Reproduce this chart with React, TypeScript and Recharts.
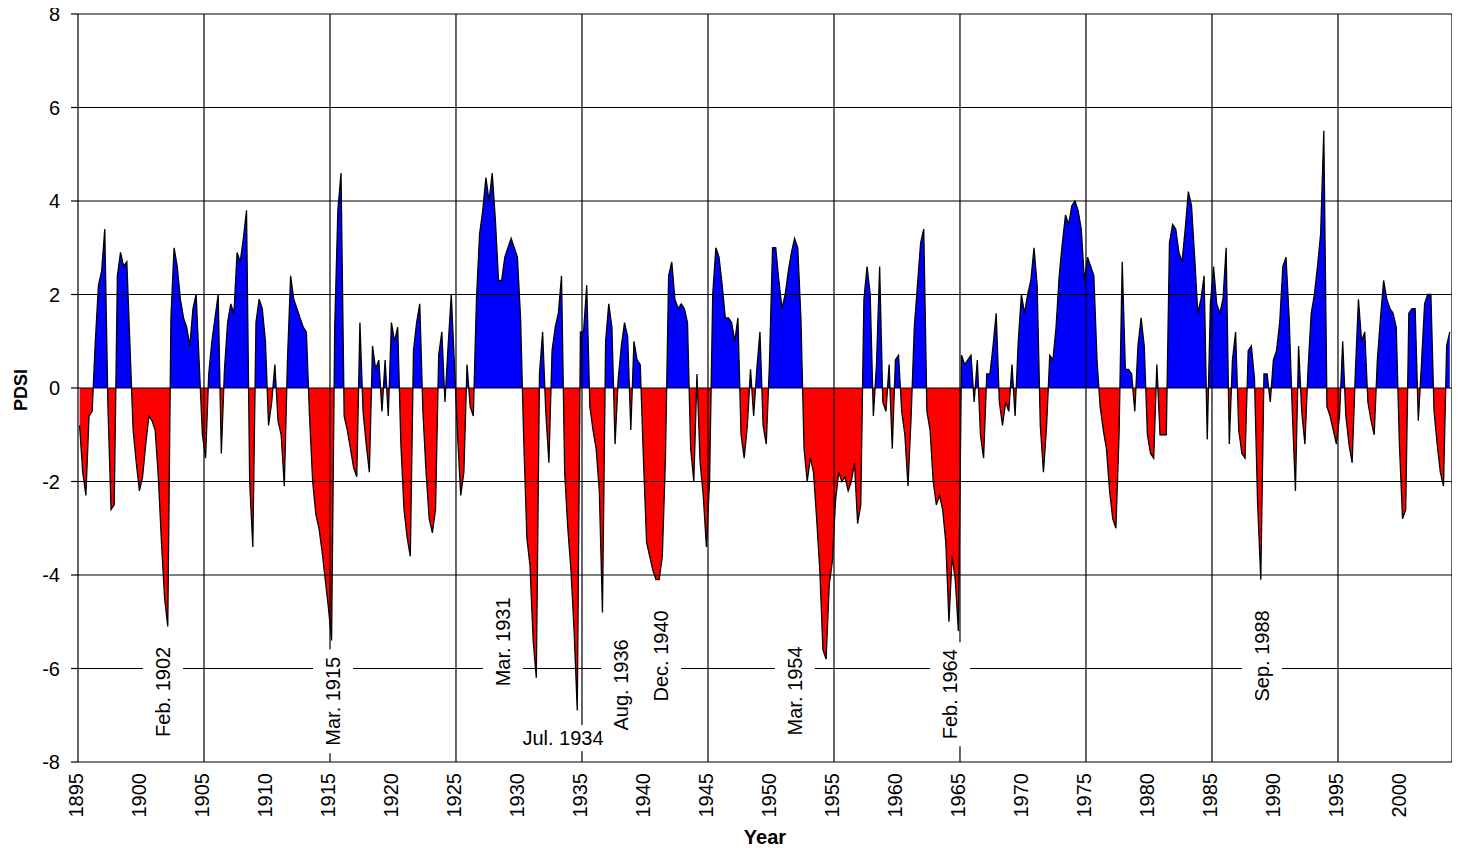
import React from 'react'
import { ComposedChart, Area, XAxis, YAxis, ReferenceLine, ReferenceDot } from 'recharts'

// Palmer Drought Severity Index, quarterly readings (Jan-Mar, Apr-Jun, Jul-Sep, Oct-Dec)
const START_YEAR = 1895
const PER_YEAR = 4
const PDSI_QUARTERLY = [
  -0.8, -1.8, -2.3, -0.6, // 1895
  -0.5, 1.0, 2.2, 2.5, // 1896
  3.4, -0.4, -2.6, -2.5, // 1897
  2.4, 2.9, 2.6, 2.7, // 1898
  0.9, -0.9, -1.6, -2.2, // 1899
  -1.9, -1.2, -0.6, -0.7, // 1900
  -0.9, -1.9, -3.3, -4.5, // 1901
  -5.1, 1.5, 3.0, 2.6, // 1902
  1.9, 1.5, 1.3, 0.9, // 1903
  1.7, 2.0, 0.5, -1.0, // 1904
  -1.5, 0.3, 1.0, 1.5, // 1905
  2.0, -1.4, 0.4, 1.4, // 1906
  1.8, 1.6, 2.9, 2.7, // 1907
  3.2, 3.8, -2.0, -3.4, // 1908
  1.4, 1.9, 1.7, 1.0, // 1909
  -0.8, -0.3, 0.5, -0.7, // 1910
  -1.0, -2.1, 0.6, 2.4, // 1911
  1.9, 1.7, 1.5, 1.3, // 1912
  1.2, -0.6, -2.0, -2.7, // 1913
  -3.0, -3.5, -4.1, -4.7, // 1914
  -5.4, 1.3, 3.8, 4.6, // 1915
  -0.6, -0.9, -1.3, -1.7, // 1916
  -1.9, 1.4, -0.5, -1.2, // 1917
  -1.8, 0.9, 0.4, 0.6, // 1918
  -0.5, 0.6, -0.6, 1.4, // 1919
  1.0, 1.3, -1.2, -2.6, // 1920
  -3.2, -3.6, 0.8, 1.4, // 1921
  1.8, -0.5, -1.8, -2.8, // 1922
  -3.1, -2.6, 0.7, 1.2, // 1923
  -0.3, 0.9, 2.0, 0.5, // 1924
  -1.0, -2.3, -1.8, 0.5, // 1925
  -0.4, -0.6, 1.9, 3.3, // 1926
  3.8, 4.5, 4.0, 4.6, // 1927
  3.6, 2.3, 2.3, 2.8, // 1928
  3.0, 3.2, 3.0, 2.8, // 1929
  1.5, -1.1, -3.2, -3.8, // 1930
  -5.4, -6.2, 0.3, 1.2, // 1931
  -0.5, -1.6, 0.8, 1.3, // 1932
  1.6, 2.4, -1.8, -3.0, // 1933
  -3.9, -5.2, -6.9, 1.2, // 1934
  1.2, 2.2, -0.4, -0.9, // 1935
  -1.3, -2.2, -4.8, 1.0, // 1936
  1.8, 1.3, -1.2, 0.2, // 1937
  0.9, 1.4, 1.1, -0.9, // 1938
  1.0, 0.6, 0.5, -1.5, // 1939
  -3.3, -3.6, -3.9, -4.1, // 1940
  -4.1, -3.6, -1.5, 2.4, // 1941
  2.7, 1.9, 1.7, 1.8, // 1942
  1.7, 1.4, -1.3, -2.0, // 1943
  0.3, -1.6, -2.3, -3.4, // 1944
  -2.0, 2.0, 3.0, 2.8, // 1945
  2.2, 1.5, 1.5, 1.4, // 1946
  1.0, 1.5, -1.0, -1.5, // 1947
  -0.8, 0.4, -0.6, 0.4, // 1948
  1.2, -0.8, -1.2, 0.5, // 1949
  3.0, 3.0, 2.3, 1.7, // 1950
  2.0, 2.5, 2.9, 3.2, // 1951
  3.0, 1.5, -1.3, -2.0, // 1952
  -1.5, -1.8, -2.8, -3.9, // 1953
  -5.6, -5.8, -4.2, -3.7, // 1954
  -2.4, -1.8, -2.0, -1.9, // 1955
  -2.2, -2.0, -1.6, -2.9, // 1956
  -2.5, 1.9, 2.6, 2.0, // 1957
  -0.6, 0.5, 2.6, -0.3, // 1958
  -0.5, 0.5, -1.3, 0.6, // 1959
  0.7, -0.5, -1.0, -2.1, // 1960
  -0.6, 1.3, 2.2, 3.1, // 1961
  3.4, -0.5, -0.9, -2.0, // 1962
  -2.5, -2.3, -2.6, -3.3, // 1963
  -5.0, -3.6, -4.1, -5.2, // 1964
  0.7, 0.5, 0.6, 0.7, // 1965
  -0.3, 0.6, -1.0, -1.5, // 1966
  0.3, 0.3, 0.9, 1.6, // 1967
  -0.3, -0.8, -0.3, -0.5, // 1968
  0.5, -0.6, 1.0, 2.0, // 1969
  1.6, 2.0, 2.3, 3.0, // 1970
  2.2, -0.8, -1.8, -0.8, // 1971
  0.7, 0.6, 1.3, 2.4, // 1972
  3.1, 3.7, 3.5, 3.9, // 1973
  4.0, 3.8, 3.4, 2.3, // 1974
  2.8, 2.6, 2.4, 0.6, // 1975
  -0.4, -0.9, -1.3, -2.2, // 1976
  -2.8, -3.0, -1.0, 2.7, // 1977
  0.4, 0.4, 0.3, -0.5, // 1978
  0.9, 1.5, 0.9, -1.0, // 1979
  -1.4, -1.5, 0.5, -1.0, // 1980
  -1.0, -1.0, 3.1, 3.5, // 1981
  3.4, 2.9, 2.7, 3.4, // 1982
  4.2, 3.9, 2.8, 1.6, // 1983
  1.9, 2.4, -1.1, 1.8, // 1984
  2.6, 1.8, 1.6, 1.9, // 1985
  3.0, -1.2, 0.6, 1.2, // 1986
  -0.9, -1.4, -1.5, 0.8, // 1987
  0.9, 0.2, -2.5, -4.1, // 1988
  0.3, 0.3, -0.3, 0.6, // 1989
  0.8, 1.4, 2.6, 2.8, // 1990
  1.5, -0.5, -2.2, 0.9, // 1991
  -0.5, -1.2, 0.4, 1.6, // 1992
  2.0, 2.6, 3.3, 5.5, // 1993
  -0.4, -0.6, -0.9, -1.2, // 1994
  -0.6, 1.0, -0.6, -1.2, // 1995
  -1.6, 0.3, 1.9, 1.0, // 1996
  1.2, -0.3, -0.7, -1.0, // 1997
  0.6, 1.5, 2.3, 1.9, // 1998
  1.7, 1.6, 1.3, -1.2, // 1999
  -2.8, -2.6, 1.6, 1.7, // 2000
  1.7, -0.7, 0.5, 1.8, // 2001
  2.0, 2.0, -0.5, -1.2, // 2002
  -1.8, -2.1, 0.9, 1.2, // 2003
]

const TICK_YEARS = [
  1895, 1900, 1905, 1910, 1915, 1920, 1925, 1930, 1935, 1940, 1945, 1950,
  1955, 1960, 1965, 1970, 1975, 1980, 1985, 1990, 1995, 2000,
]
const GRID_YEARS = [1905, 1915, 1925, 1935, 1945, 1955, 1965, 1975, 1985, 1995]
const PDSI_TICKS = [-8, -6, -4, -2, 0, 2, 4, 6, 8]
const X_DOMAIN: [number, number] = [1895, 2004.05]

// drought annotations: label, year and PDSI value where the label sits
const NOTE_TEXT = ['Feb. 1902', 'Mar. 1915', 'Mar. 1931', 'Jul. 1934', 'Aug. 1936', 'Dec. 1940', 'Mar. 1954', 'Feb. 1964', 'Sep. 1988']
const NOTE_YEAR = [1901.75, 1915.24, 1928.73, 1933.49, 1938.1, 1941.27, 1951.9, 1964.21, 1988.97]
const NOTE_PDSI = [-6.5, -6.7, -5.43, -7.49, -6.35, -5.73, -6.48, -6.55, -5.73]
const NOTE_FLAT = [false, false, false, true, false, false, false, false, false]

const FONT = '"Liberation Sans", Arial, sans-serif'

const chartData = PDSI_QUARTERLY.map((v, i) => ({
  year: START_YEAR + (i + 0.5) / PER_YEAR,
  pdsi: v,
}))

// where zero falls inside the area's bounding box, for the blue/red split
const maxV = Math.max(...PDSI_QUARTERLY)
const minV = Math.min(...PDSI_QUARTERLY)
const zeroOffset = maxV / (maxV - minV)

const YearTick = ({ x, y, payload }: any) => {
  const tx = x - 2
  const ty = y + 9
  return (
    <text
      x={tx}
      y={ty}
      transform={`rotate(-90 ${tx} ${ty})`}
      textAnchor="end"
      dominantBaseline="central"
      fontSize={20}
      fontFamily={FONT}
      fill="#000"
    >
      {payload.value}
    </text>
  )
}

const noteShape = (text: string, flat: boolean) => (props: any) => {
  const { cx, cy } = props
  const common = {
    fontSize: 20,
    fontFamily: FONT,
    fill: '#000',
    textAnchor: 'middle' as const,
    dominantBaseline: 'central' as const,
  }
  if (flat) {
    return (
      <g>
        <rect x={cx - 46} y={cy - 13} width={92} height={26} fill="#fff" />
        <text x={cx} y={cy} {...common}>{text}</text>
      </g>
    )
  }
  return (
    <g>
      <rect x={cx - 20} y={cy - 52} width={40} height={104} fill="#fff" />
      <text x={cx} y={cy} transform={`rotate(-90 ${cx} ${cy})`} {...common}>{text}</text>
    </g>
  )
}

export default function App() {
  // pull the chart over the body margin so the top tick label is not clipped
  return (
    <div style={{ width: 1460, height: 848, margin: '-8px 0 0 -8px' }}>
      <ComposedChart
        width={1460}
        height={848}
        data={chartData}
        margin={{ top: 14, right: 8, bottom: 8, left: 0 }}
      >
        <defs>
          <linearGradient id="pdsiSplit" x1="0" y1="0" x2="0" y2="1">
            <stop offset={zeroOffset} stopColor="#0000ff" stopOpacity={1} />
            <stop offset={zeroOffset} stopColor="#ff0000" stopOpacity={1} />
          </linearGradient>
        </defs>
        <XAxis
          dataKey="year"
          type="number"
          domain={X_DOMAIN}
          allowDataOverflow
          ticks={TICK_YEARS}
          interval={0}
          height={78}
          tickLine={false}
          tickSize={0}
          axisLine={{ stroke: '#000', strokeWidth: 1.2 }}
          tick={<YearTick />}
          label={(p: any) => {
            const vb = p.viewBox || { x: 78, y: 762, width: 1374, height: 78 }
            return (
              <text
                x={vb.x + vb.width / 2}
                y={vb.y + 75}
                textAnchor="middle"
                dominantBaseline="central"
                fontSize={20}
                fontWeight="bold"
                fontFamily={FONT}
                fill="#000"
              >
                Year
              </text>
            )
          }}
        />
        <YAxis
          type="number"
          domain={[-8, 8]}
          ticks={PDSI_TICKS}
          interval={0}
          width={78}
          tickSize={7}
          tickMargin={11}
          tickLine={{ stroke: '#000', strokeWidth: 1.2 }}
          axisLine={{ stroke: '#000', strokeWidth: 1.2 }}
          tick={{ fontSize: 20, fontFamily: FONT, fill: '#000' }}
          label={() => (
            <text
              x={21}
              y={390}
              transform="rotate(-90 21 390)"
              textAnchor="middle"
              dominantBaseline="central"
              fontSize={18}
              fontWeight="bold"
              fontFamily={FONT}
              fill="#000"
            >
              PDSI
            </text>
          )}
        />
        <Area
          type="linear"
          dataKey="pdsi"
          baseValue={0}
          stroke="#000"
          strokeWidth={1.3}
          fill="url(#pdsiSplit)"
          fillOpacity={1}
          dot={false}
          activeDot={false}
          isAnimationActive={false}
        />
        {PDSI_TICKS.filter((t) => t > -8).map((t) => (
          <ReferenceLine key={`h${t}`} y={t} stroke="#000" strokeWidth={1.2} />
        ))}
        {GRID_YEARS.map((yr) => (
          <ReferenceLine key={`v${yr}`} x={yr} stroke="#000" strokeWidth={1.2} />
        ))}
        <ReferenceLine x={X_DOMAIN[1]} stroke="#000" strokeWidth={1.2} />
        {NOTE_TEXT.map((t, i) => (
          <ReferenceDot
            key={t}
            x={NOTE_YEAR[i]}
            y={NOTE_PDSI[i]}
            r={1}
            ifOverflow="visible"
            shape={noteShape(t, NOTE_FLAT[i])}
          />
        ))}
      </ComposedChart>
    </div>
  )
}
